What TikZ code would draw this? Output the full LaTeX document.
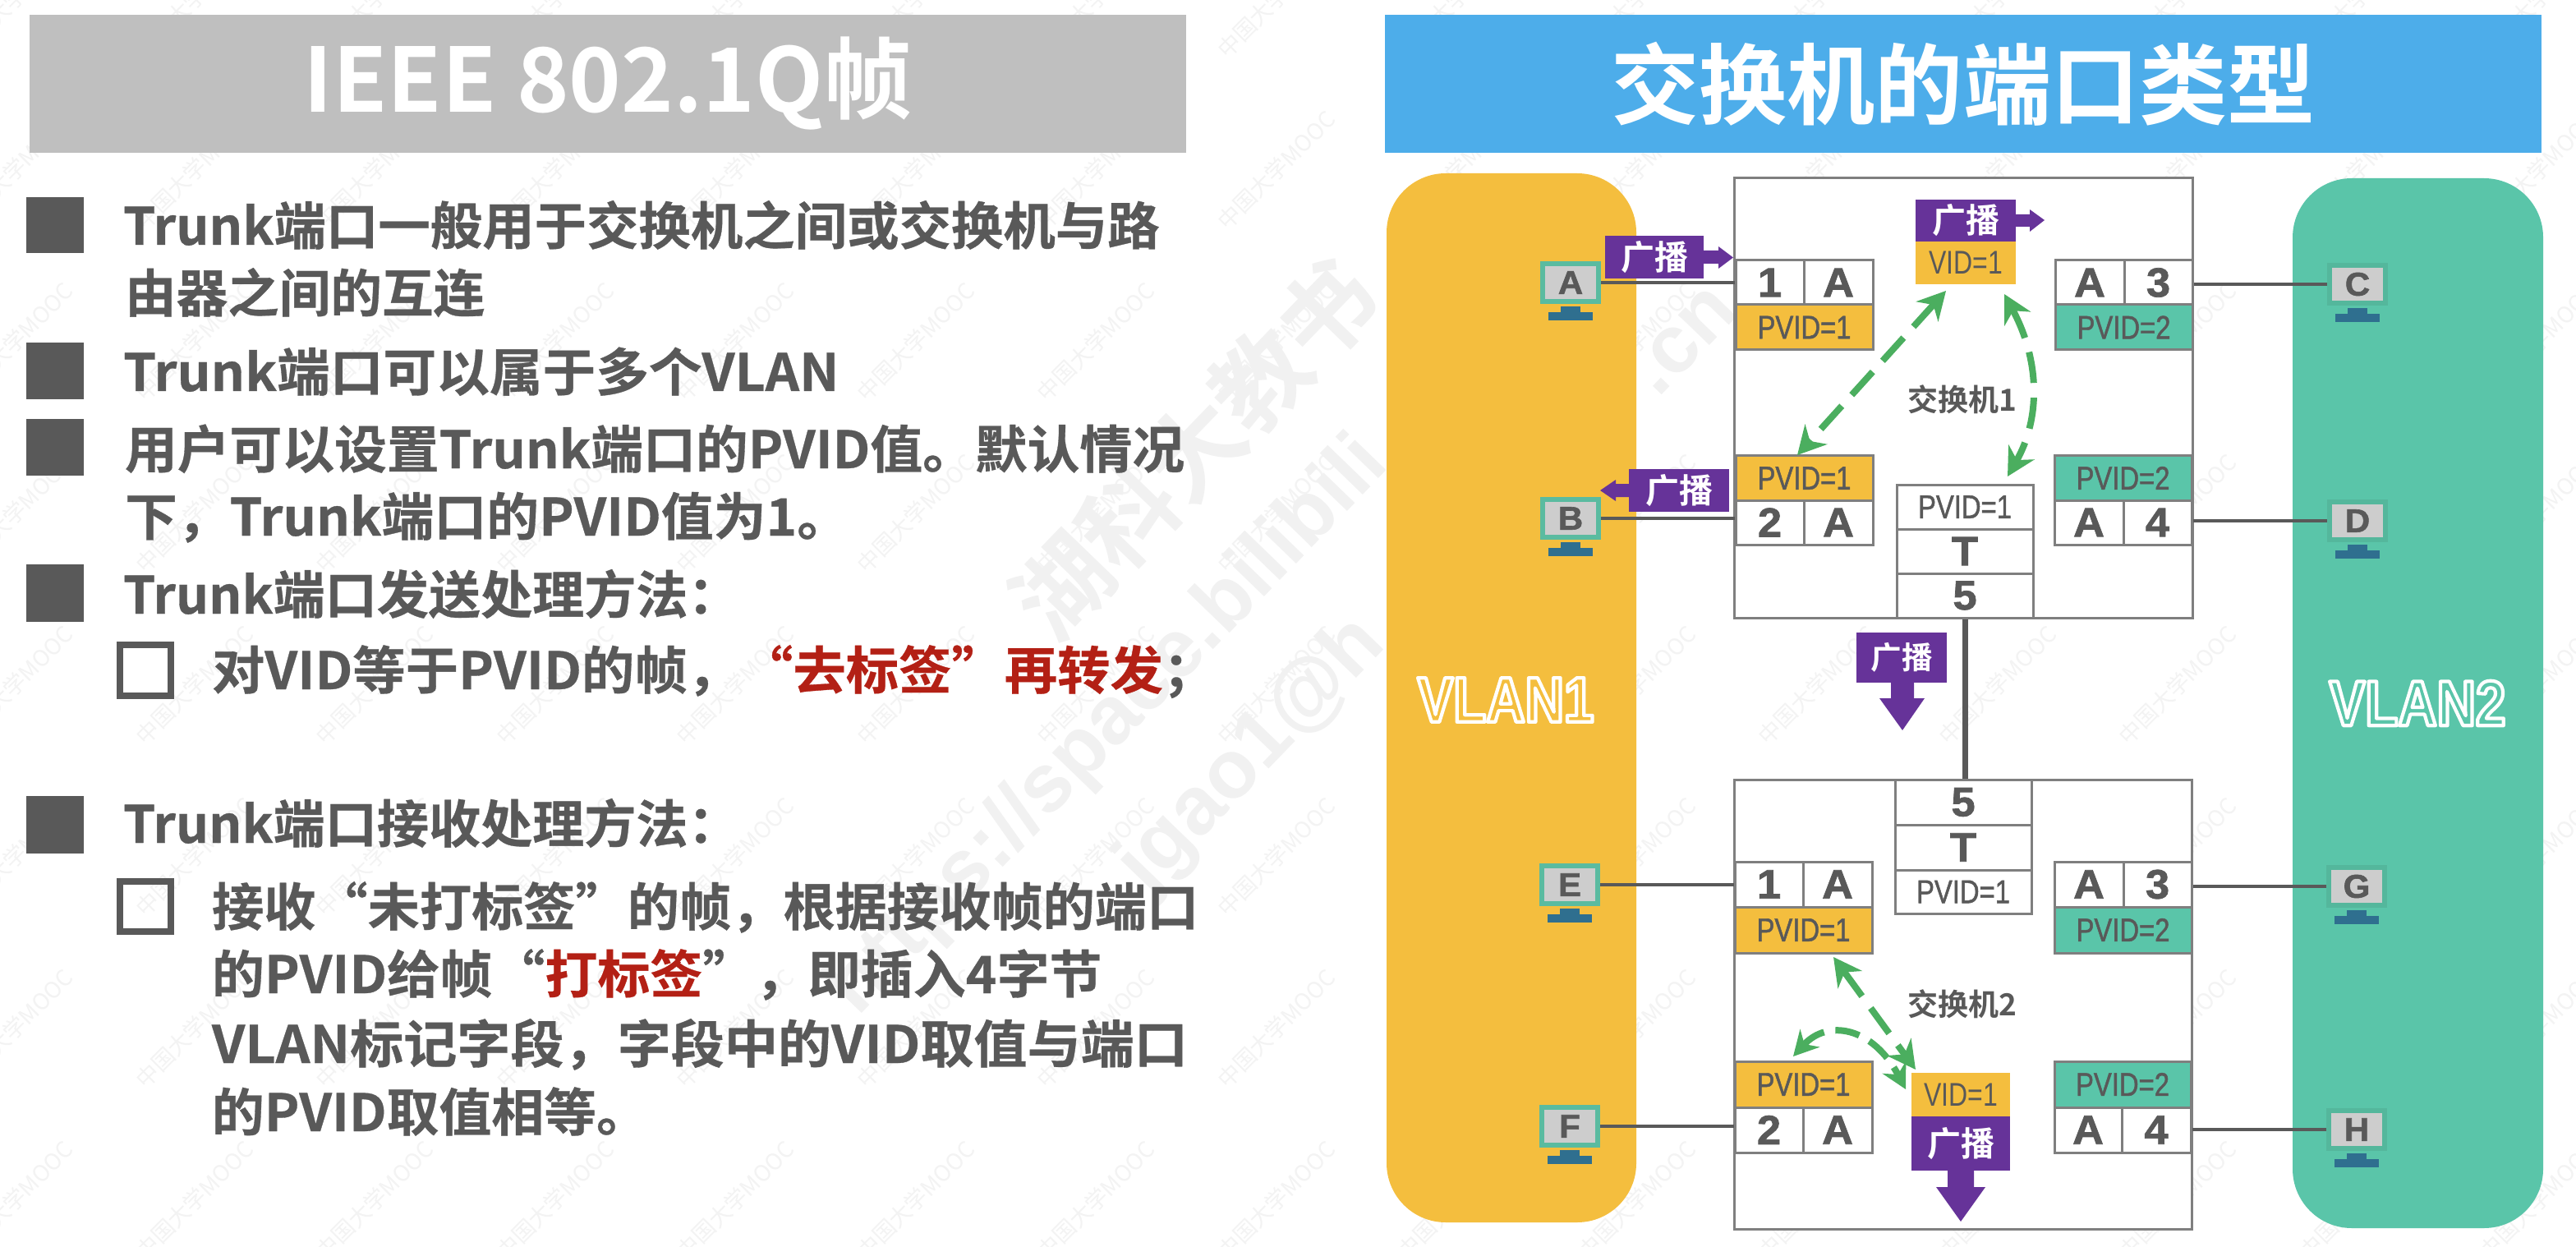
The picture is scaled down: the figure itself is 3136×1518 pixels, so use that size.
\documentclass[tikz,border=0pt]{standalone}
\usepackage{fontspec}
\usepackage{graphicx}
\usetikzlibrary{arrows.meta}
\setmainfont{Liberation Sans}
\newfontfamily\cjk{Noto Sans CJK SC}[BoldFont={Noto Sans CJK SC Bold}]
\newfontfamily\lfont{Noto Sans CJK SC Bold}[FakeBold=0.5]
\newfontfamily\portfont{Liberation Sans Bold}[FakeBold=1.5,FakeStretch=1.05]
\newfontfamily\pvidfont{Liberation Sans}[FakeStretch=0.82,FakeBold=1.2]
\newfontfamily\vidfont{Liberation Sans}[FakeStretch=0.8]
\newfontfamily\vlanfont{Liberation Sans Bold}[FakeStretch=0.84]
\newfontfamily\wmfont{Liberation Sans Bold}
\definecolor{txtgray}{HTML}{595959}
\definecolor{redtxt}{HTML}{B32015}
\definecolor{barGray}{HTML}{BFBFBF}
\definecolor{barBlue}{HTML}{4DADEA}
\definecolor{vyellow}{HTML}{F4BE3E}
\definecolor{vteal}{HTML}{5AC5A9}
\definecolor{purp}{HTML}{663399}
\definecolor{linegray}{HTML}{7F7F7F}
\definecolor{wiregray}{HTML}{595959}
\definecolor{garrow}{HTML}{4BAE5F}
\definecolor{hostframeA}{HTML}{5ABBA0}
\definecolor{hostframeB}{HTML}{54B79C}
\definecolor{hostgray}{HTML}{CDCDCD}
\definecolor{hostbase}{HTML}{2F6F8F}
\definecolor{wmA}{HTML}{F3F3F3}
\definecolor{wmB}{HTML}{F1F1F1}
\tikzset{
  x=0.5pt,y=-0.5pt,
  ltext/.style={anchor=base west,inner sep=0pt,outer sep=0pt,text=txtgray,font=\lfont\fontsize{31.3pt}{31.3pt}\selectfont},
  fullsq/.style={fill=txtgray,draw=none},
  hollowsq/.style={draw=txtgray,line width=4pt,fill=none},
  cellbox/.style={draw=linegray,line width=1.5pt,inner sep=0pt,text=txtgray,fill=white},
  portnum/.style={cellbox,font=\portfont\fontsize{25pt}{25pt}\selectfont},
  pvidtext/.style={cellbox,font=\pvidfont\fontsize{20pt}{20pt}\selectfont},
  bcast/.style={fill=purp,draw=none,inner sep=0pt,text=white,font=\cjk\bfseries\fontsize{20.5pt}{20.5pt}\selectfont},
  vidbox/.style={fill=vyellow,draw=none,inner sep=0pt,text=txtgray,font=\vidfont\fontsize{20pt}{20pt}\selectfont},
  switchbox/.style={draw=linegray,line width=1.5pt,fill=white,inner sep=0pt},
  swlabel/.style={inner sep=0pt,text=txtgray,font=\cjk\bfseries\fontsize{18.5pt}{18.5pt}\selectfont},
  wire/.style={draw=wiregray,line width=1.75pt},
  trunk/.style={draw=wiregray,line width=3.5pt},
  greenarrow/.style={draw=garrow,line width=4pt,dash pattern=on 19pt off 9pt,{Stealth[length=17pt,width=18pt]}-{Stealth[length=17pt,width=18pt]}},
  greenonearrow/.style={draw=garrow,line width=4pt,dash pattern=on 15pt off 7pt,{Stealth[length=15pt,width=16pt]}-{Stealth[length=15pt,width=16pt]}},
  hostbox/.style={line width=3pt,fill=hostgray,inner sep=0pt,minimum width=34pt,minimum height=23pt,text=txtgray,font=\portfont\fontsize{20pt}{20pt}\selectfont},
  basepart/.style={fill=hostbase,draw=none},
  vlanbox/.style={rounded corners=36pt,draw=none},
  wmsmall/.style={inner sep=0pt,rotate=45,text=wmA,font=\cjk\fontsize{13.6pt}{13.6pt}\selectfont},
  wmbig/.style={inner sep=0pt,rotate=46,text=wmB,font=\wmfont\fontsize{50pt}{50pt}\selectfont},
  wmcjk/.style={inner sep=0pt,rotate=46,text=wmB,font=\cjk\bfseries\fontsize{58pt}{58pt}\selectfont},
}
\newcommand{\cellat}[7]{\node[#6,minimum width={(#4-#2)*0.5pt},minimum height={(#5-#3)*0.5pt}] (#1) at ({(#2+#4)/2},{(#3+#5)/2}) {#7};}
% #1 name, #2 x, #3 y of text centre, #4 horizontal stretch, #5 text
\newcommand{\ltx}[5]{\node[ltext] (#1) at (#2,#3+23) {\scalebox{#4}[1]{#5}};}
\newcommand{\hostat}[5]{%
  \fill[basepart] (#3-12,#4+29) rectangle (#3+12,#4+37);
  \fill[basepart] (#3-27,#4+36) rectangle (#3+27,#4+46);
  \node[hostbox,draw=#5] (#1) at (#3,#4) {#2};}
\newcommand{\outlined}[1]{\special{pdf:code 2 Tr 2.1 w 1 j 1 1 1 RG}#1\special{pdf:code 0 Tr}}
\begin{document}
\begin{tikzpicture}
\useasboundingbox (0,0) rectangle (3136,1518);
\fill[white] (0,0) rectangle (3136,1518);
% watermarks
\foreach \i in {0,...,14}{\foreach \j in {0,...,7}{
  \node[wmsmall] (wm\i-\j) at ({17+219.5*\i},{-2+209*\j}) {中国大学MOOC};
}}
\node[wmcjk] (wmhk) at (1454,546) {湖科大教书};
\node[wmbig] (wmurl) at (1350,885) {https://space.bilibili};
\node[wmbig] (wmmail) at (1525,920) {jgao1@h};
\node[wmbig] (wmcn) at (2050,415) {.cn};
% title bars
\node[fill=barGray,minimum width=704pt,minimum height=84pt,inner sep=0pt,text=white,font=\cjk\bfseries\fontsize{54pt}{54pt}\selectfont] (ltitle) at (740,102) {IEEE 802.1Q帧};
\node[fill=barBlue,minimum width=704pt,minimum height=84pt,inner sep=0pt,text=white,font=\cjk\bfseries\fontsize{53.6pt}{53.6pt}\selectfont] (rtitle) at (2390,102) {交换机的端口类型};
% bullets
\fill[fullsq] (32,240) rectangle (102,308);
\fill[fullsq] (32,417) rectangle (102,486);
\fill[fullsq] (32,510) rectangle (102,579);
\fill[fullsq] (32,687) rectangle (102,757);
\fill[fullsq] (32,969) rectangle (102,1039);
\draw[hollowsq] (146,785) rectangle (208,847);
\draw[hollowsq] (146,1073) rectangle (208,1134);
\ltx{l1}{150}{275}{1.013}{Trunk端口一般用于交换机之间或交换机与路}
\ltx{l2}{152}{357}{1.0}{由器之间的互连}
\ltx{l3}{150}{453}{1.033}{Trunk端口可以属于多个VLAN}
\ltx{l4}{152}{547}{1.019}{用户可以设置Trunk端口的PVID值。默认情况}
\ltx{l5}{152}{629}{1.02}{下，Trunk端口的PVID值为1。}
\ltx{l6}{150}{724}{1.008}{Trunk端口发送处理方法：}
\ltx{l7}{258}{816}{1.028}{对VID等于PVID的帧，{\color{redtxt}“去标签”再转发}；}
\ltx{l8}{150}{1003}{1.008}{Trunk端口接收处理方法：}
\ltx{l9}{258}{1104}{1.01}{接收“未打标签”的帧，根据接收帧的端口}
\ltx{l10}{258}{1186}{1.023}{的PVID给帧“{\color{redtxt}打标签}”，即插入4字节}
\ltx{l11}{258}{1271}{1.04}{VLAN标记字段，字段中的VID取值与端口}
\ltx{l12}{258}{1354}{1.02}{的PVID取值相等。}
% VLAN regions
\fill[vlanbox,vyellow] (1688,211) rectangle (1992,1488);
\fill[vlanbox,vteal] (2791,217) rectangle (3096,1495);
\node[inner sep=0pt,text=vyellow,font=\vlanfont\fontsize{39pt}{39pt}\selectfont] (vlan1) at (1833,852) {\outlined{VLAN1}};
\node[inner sep=0pt,text=vteal,font=\vlanfont\fontsize{39pt}{39pt}\selectfont] (vlan2) at (2943,856) {\outlined{VLAN2}};
% switches
\cellat{sw1}{2111}{217}{2669}{752}{switchbox}{}
\cellat{sw2}{2111}{949}{2668}{1496}{switchbox}{}
% switch 1 ports
\cellat{a1n}{2113}{317}{2196}{371}{portnum}{1}
\cellat{a1a}{2196}{317}{2280}{371}{portnum}{A}
\cellat{a1p}{2113}{371}{2280}{426}{pvidtext,fill=vyellow}{PVID=1}
\cellat{a2p}{2113}{555}{2280}{609}{pvidtext,fill=vyellow}{PVID=1}
\cellat{a2n}{2113}{609}{2196}{663}{portnum}{2}
\cellat{a2a}{2196}{609}{2280}{663}{portnum}{A}
\cellat{a3a}{2502}{317}{2586}{371}{portnum}{A}
\cellat{a3n}{2586}{317}{2669}{371}{portnum}{3}
\cellat{a3p}{2502}{371}{2669}{426}{pvidtext,fill=vteal}{PVID=2}
\cellat{a4p}{2501}{555}{2668}{609}{pvidtext,fill=vteal}{PVID=2}
\cellat{a4a}{2501}{609}{2585}{663}{portnum}{A}
\cellat{a4n}{2585}{609}{2668}{663}{portnum}{4}
\cellat{a5p}{2309}{590}{2475}{644}{pvidtext}{PVID=1}
\cellat{a5t}{2309}{644}{2475}{698}{portnum}{T}
\cellat{a5n}{2309}{698}{2475}{752}{portnum}{5}
% switch 2 ports
\cellat{b5n}{2307}{949}{2473}{1004}{portnum}{5}
\cellat{b5t}{2307}{1004}{2473}{1059}{portnum}{T}
\cellat{b5p}{2307}{1059}{2473}{1112}{pvidtext}{PVID=1}
\cellat{b1n}{2112}{1049}{2195}{1104}{portnum}{1}
\cellat{b1a}{2195}{1049}{2279}{1104}{portnum}{A}
\cellat{b1p}{2112}{1104}{2279}{1160}{pvidtext,fill=vyellow}{PVID=1}
\cellat{b2p}{2112}{1292}{2279}{1348}{pvidtext,fill=vyellow}{PVID=1}
\cellat{b2n}{2112}{1348}{2195}{1403}{portnum}{2}
\cellat{b2a}{2195}{1348}{2279}{1403}{portnum}{A}
\cellat{b3a}{2501}{1049}{2585}{1104}{portnum}{A}
\cellat{b3n}{2585}{1049}{2668}{1104}{portnum}{3}
\cellat{b3p}{2501}{1104}{2668}{1160}{pvidtext,fill=vteal}{PVID=2}
\cellat{b4p}{2501}{1292}{2667}{1348}{pvidtext,fill=vteal}{PVID=2}
\cellat{b4a}{2501}{1348}{2583}{1403}{portnum}{A}
\cellat{b4n}{2583}{1348}{2667}{1403}{portnum}{4}
% hosts
\hostat{hA}{A}{1912}{344}{hostframeA}
\hostat{hB}{B}{1912}{631}{hostframeA}
\hostat{hE}{E}{1911}{1077}{hostframeA}
\hostat{hF}{F}{1911}{1371}{hostframeA}
\hostat{hC}{C}{2870}{346}{hostframeB}
\hostat{hD}{D}{2870}{634}{hostframeB}
\hostat{hG}{G}{2869}{1079}{hostframeB}
\hostat{hH}{H}{2869}{1375}{hostframeB}
% wires
\draw[wire] (hA.east) -- (hA.east -| a1n.west);
\draw[wire] (hB.east) -- (hB.east -| a2n.west);
\draw[wire] (hE.east) -- (hE.east -| b1n.west);
\draw[wire] (hF.east) -- (hF.east -| b2n.west);
\draw[wire] (hC.west) -- (hC.west -| a3n.east);
\draw[wire] (hD.west) -- (hD.west -| a4n.east);
\draw[wire] (hG.west) -- (hG.west -| b3n.east);
\draw[wire] (hH.west) -- (hH.west -| b4n.east);
\draw[trunk] (a5n.south) -- (a5n.south |- b5n.north);
% switch labels
\node[swlabel] (lab1) at (2389,486) {交换机1};
\node[swlabel] (lab2) at (2389,1222) {交换机2};
% frames
\cellat{fA}{1954}{287}{2074}{339}{bcast}{广播}
\fill[purp] (2074,305) -- (2092,305) -- (2092,300) -- (2110,313.5) -- (2092,327) -- (2092,321) -- (2074,321) -- cycle;
\cellat{fB}{1983}{571}{2105}{623}{bcast}{广播}
\fill[purp] (1983,589) -- (1967,589) -- (1967,584) -- (1948,597) -- (1967,610) -- (1967,605) -- (1983,605) -- cycle;
\cellat{fT}{2332}{243}{2454}{294}{bcast}{广播}
\cellat{fTv}{2332}{294}{2454}{346}{vidbox}{VID=1}
\fill[purp] (2454,261) -- (2471,261) -- (2471,255) -- (2489,268) -- (2471,282) -- (2471,276) -- (2454,276) -- cycle;
\cellat{fM}{2260}{770}{2370}{831}{bcast,font=\cjk\bfseries\fontsize{18.8pt}{18.8pt}\selectfont}{广播}
\fill[purp] (2302,831) -- (2302,850) -- (2288,850) -- (2316,889) -- (2343,850) -- (2330,850) -- (2330,831) -- cycle;
\cellat{fBv}{2327}{1306}{2447}{1359}{vidbox}{VID=1}
\cellat{fBb}{2327}{1359}{2447}{1425}{bcast}{广播}
\fill[purp] (2371,1425) -- (2371,1445) -- (2357,1445) -- (2387,1487) -- (2417,1445) -- (2403,1445) -- (2403,1425) -- cycle;
% green arrows
\coordinate (g1a) at (2369,354);
\coordinate (g1b) at (2188,554);
\coordinate (g2a) at (2440,358);
\coordinate (g2b) at (2444,580);
\coordinate (g3a) at (2232,1165);
\coordinate (g3b) at (2332,1302);
\coordinate (g4a) at (2183,1286);
\coordinate (g4b) at (2320,1326);
\draw[greenarrow] (g1a) -- (g1b);
\draw[greenarrow] (g2a) .. controls (2484,440) and (2484,510) .. (g2b);
\draw[greenarrow] (g3a) -- (g3b);
\draw[greenonearrow] (g4a) .. controls (2225,1240) and (2280,1250) .. (g4b);
\end{tikzpicture}
\end{document}
